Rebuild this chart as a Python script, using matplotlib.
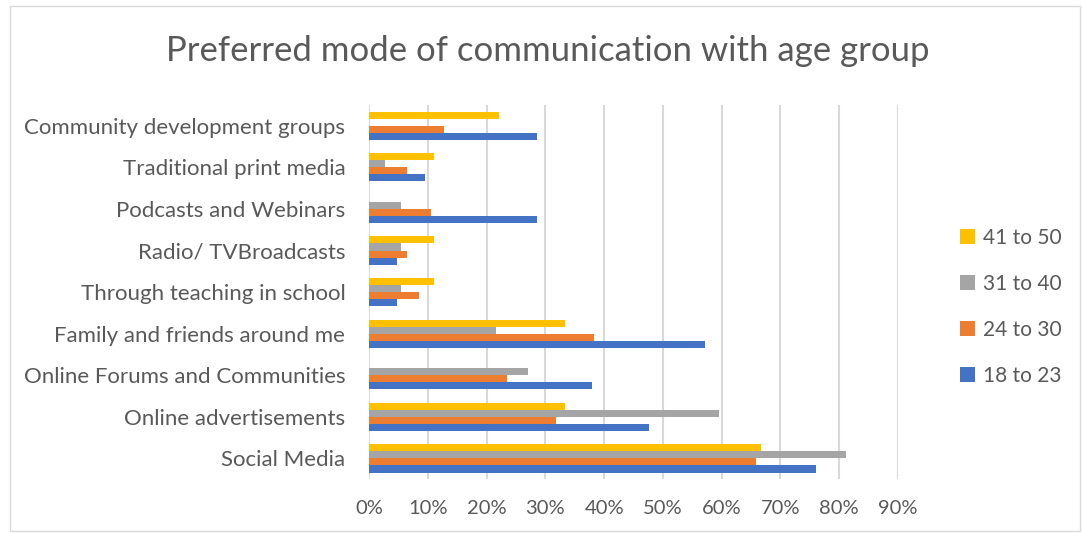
import matplotlib.pyplot as plt
import numpy as np
from matplotlib.patches import Rectangle
from matplotlib.ticker import FuncFormatter

plt.rcParams['font.family'] = ['Lato', 'DejaVu Sans']

categories = ['Social Media', 'Online advertisements', 'Online Forums and Communities',
              'Family and friends around me', 'Through teaching in school',
              'Radio/ TVBroadcasts', 'Podcasts and Webinars',
              'Traditional print media', 'Community development groups']

age_18_23 = [0.761, 0.476, 0.380, 0.571, 0.047, 0.047, 0.285, 0.095, 0.285]
age_24_30 = [0.659, 0.319, 0.234, 0.383, 0.085, 0.064, 0.106, 0.064, 0.128]
age_31_40 = [0.811, 0.595, 0.270, 0.216, 0.054, 0.054, 0.054, 0.027, 0.0]
age_41_50 = [0.667, 0.333, 0.0, 0.333, 0.111, 0.111, 0.0, 0.111, 0.222]

series = [('18 to 23', age_18_23, '#4472C4'),
          ('24 to 30', age_24_30, '#ED7D31'),
          ('31 to 40', age_31_40, '#A5A5A5'),
          ('41 to 50', age_41_50, '#FFC000')]

fig = plt.figure(figsize=(10.82, 5.33), dpi=100)
fig.patches.append(Rectangle((0.009, 0.004), 0.989, 0.984, transform=fig.transFigure,
                             fill=False, edgecolor='#d9d9d9', linewidth=1.0))

ax = fig.add_axes([0.341, 0.101, 0.489, 0.702])

y = np.arange(len(categories))
h = 0.17
for i, (name, vals, color) in enumerate(series):
    ax.barh(y + (i - 1.5) * h, vals, height=h, color=color, label=name, zorder=3)

ax.set_xlim(0, 0.9)
ax.set_ylim(-0.5, len(categories) - 0.5)
ax.set_xticks(np.arange(0, 0.91, 0.1))
ax.xaxis.set_major_formatter(FuncFormatter(lambda v, p: f'{v * 100:.0f}%'))
ax.set_yticks(y)
ax.set_yticklabels(categories)
ax.grid(axis='x', color='#d9d9d9', linewidth=1.5, zorder=0)
for s in ax.spines.values():
    s.set_visible(False)
ax.tick_params(axis='x', length=0, pad=15, labelsize=14.5, labelcolor='#595959')
ax.tick_params(axis='y', length=0, pad=17, labelsize=16, labelcolor='#595959')

handles, labels = ax.get_legend_handles_labels()
fig.legend(handles[::-1], labels[::-1], loc='center left', bbox_to_anchor=(0.87, 0.424),
           frameon=False, fontsize=15, labelcolor='#595959', handlelength=0.7,
           handleheight=0.7, handletextpad=0.4, labelspacing=1.25)

fig.text(0.506, 0.905, 'Preferred mode of communication with age group',
         ha='center', va='center', fontsize=25, color='#595959')

fig.savefig('out.png', dpi=100)
